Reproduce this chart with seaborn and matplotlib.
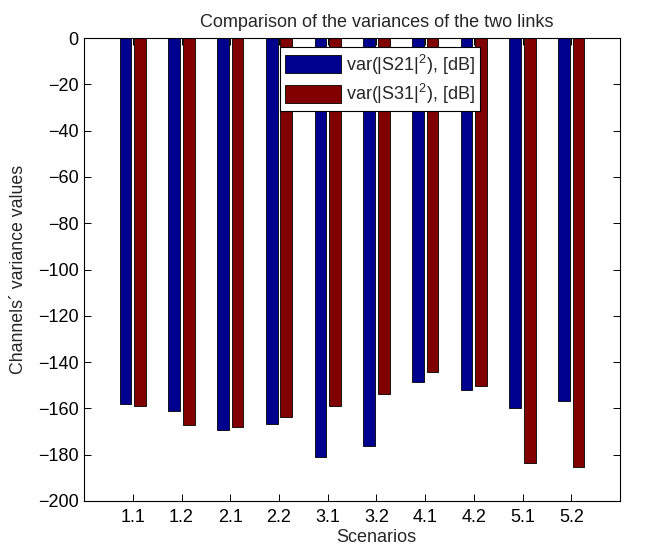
import matplotlib
matplotlib.use("Agg")
import matplotlib.pyplot as plt
import seaborn as sns
import pandas as pd

scenarios = ["1.1", "1.2", "2.1", "2.2", "3.1", "3.2", "4.1", "4.2", "5.1", "5.2"]
var_s21 = [-158, -161.3, -169.5, -166.9, -181, -176.4, -148.6, -152, -159.8, -156.8]
var_s31 = [-158.8, -167, -168.2, -163.6, -158.8, -153.8, -144.1, -150.3, -183.5, -185.2]
series_labels = [r"var(|S21|$^2$), [dB]", r"var(|S31|$^2$), [dB]"]
colors = ["#00008F", "#800000"]

df = pd.DataFrame({
    "Scenario": scenarios * 2,
    "Value": var_s21 + var_s31,
    "Series": [series_labels[0]] * len(scenarios) + [series_labels[1]] * len(scenarios),
})

sns.set_style("white")
plt.rcParams["font.family"] = ["Liberation Sans", "DejaVu Sans"]
plt.rcParams["mathtext.fontset"] = "custom"
plt.rcParams["mathtext.rm"] = "Liberation Sans"
plt.rcParams["font.size"] = 13

fig = plt.figure(figsize=(6.62, 5.47), dpi=100)
ax = fig.add_axes([0.127, 0.0841, 0.8096, 0.8464])

sns.barplot(data=df, x="Scenario", y="Value", hue="Series", order=scenarios,
            hue_order=series_labels, palette=colors, width=0.6, gap=0.2,
            edgecolor="black", linewidth=0.6, saturation=1, ax=ax, errorbar=None)

ax.set_xlim(-1, 10)
ax.set_ylim(-200, 0)
ax.set_yticks(range(-200, 1, 20))
ax.set_yticklabels([("\u2212" + str(abs(v))) if v < 0 else str(v) for v in range(-200, 1, 20)])
ax.set_title("Comparison of the variances of the two links", fontsize=13, pad=8, x=0.547)
ax.set_xlabel("Scenarios", fontsize=13, labelpad=2, x=0.545)
ax.set_ylabel("Channels\u00b4 variance values", fontsize=12.8, labelpad=8)

for s in ax.spines.values():
    s.set_visible(True)
    s.set_color("black")
    s.set_linewidth(0.8)
ax.tick_params(direction="in", length=5, width=0.7, top=True, right=True,
               bottom=True, left=True, colors="black", labelsize=13)
ax.tick_params(axis="y", pad=4)
ax.tick_params(axis="x", pad=6)

leg = ax.legend(loc="upper left", bbox_to_anchor=(0.3657, 0.9806), frameon=True,
                fancybox=False, handlelength=3.05, handleheight=1.15,
                borderpad=0.3, labelspacing=0.3, handletextpad=0.28,
                borderaxespad=0, fontsize=13, title=None)
leg.get_frame().set_edgecolor("black")
leg.get_frame().set_linewidth(0.8)
leg.get_frame().set_alpha(1)

fig.savefig("out.png", dpi=100)
